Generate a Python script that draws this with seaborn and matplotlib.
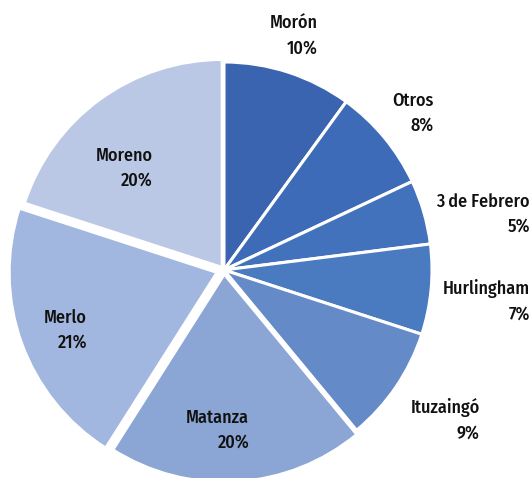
import numpy as np
import matplotlib.pyplot as plt
import seaborn as sns

names = ["Morón", "Otros", "3 de Febrero", "Hurlingham",
         "Ituzaingó", "Matanza", "Merlo", "Moreno"]
shares = [10, 8, 5, 7, 9, 20, 21, 20]
colors = ["#3a63b0", "#3e6bb8", "#4372bc", "#4a7bc1",
          "#648ac8", "#8ba6d5", "#a1b7df", "#bac8e6"]
explode = [0, 0, 0, 0, 0, 0.02, 0.035, 0.015]

# label placement: distance from wedge centre (in radii) and angular nudge
label_dist = [1.175, 1.18, 1.275, 1.27, 1.285, 0.75, 0.78, 0.67]
label_nudge = [1.5, 0, -4, -1.4, 0, -6, 1, 8.7]

sns.set_theme(style="white")
plt.rcParams['font.family'] = ['Fira Sans Condensed', 'Open Sans Condensed', 'DejaVu Sans']

fig = plt.figure(figsize=(5.31, 4.78), dpi=100)
ax = fig.add_axes([0, 0, 1, 1])

wedges, _ = ax.pie(
    shares,
    colors=colors,
    explode=explode,
    startangle=90,
    counterclock=False,
    radius=1,
    wedgeprops=dict(edgecolor="white", linewidth=2.2),
)

for w, name, pct, d, nudge in zip(wedges, names, shares, label_dist, label_nudge):
    ang = np.deg2rad((w.theta1 + w.theta2) / 2 + nudge)
    cx, cy = w.center
    ax.text(cx + d * np.cos(ang), cy + d * np.sin(ang),
            f"{name}\n{pct}%",
            ha="center", va="center", multialignment="right",
            fontsize=13, fontweight="medium",
            color="#111111", linespacing=1.5)

r = 208
cx_px, cy_px = 224, 270
ax.set_xlim(-cx_px / r, (531 - cx_px) / r)
ax.set_ylim(-(478 - cy_px) / r, cy_px / r)
ax.set_aspect("auto")
ax.axis("off")

plt.savefig("out.png", dpi=100)
plt.close()
